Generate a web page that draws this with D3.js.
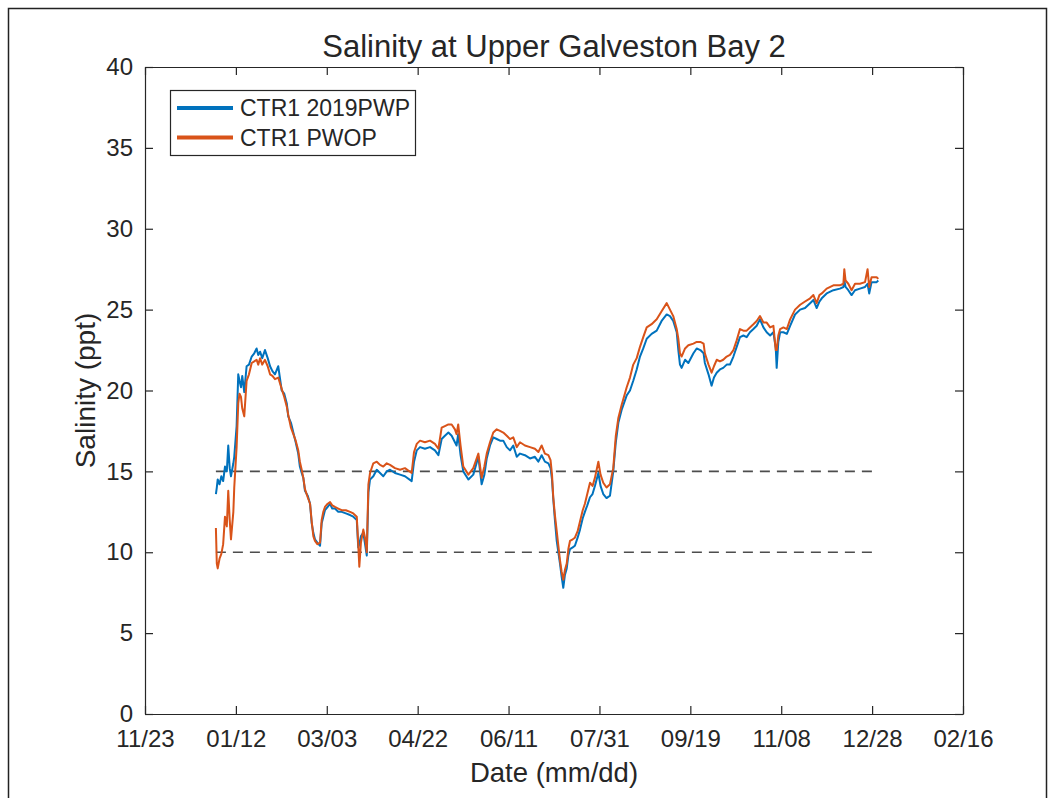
<!DOCTYPE html>
<html>
<head>
<meta charset="utf-8">
<script src="https://cdn.jsdelivr.net/npm/d3@7"></script>
<style>
  html, body { margin: 0; padding: 0; background: #fff; }
  svg { display: block; }
  text { font-family: "Liberation Sans", Arial, Helvetica, sans-serif; fill: #262626; }
</style>
</head>
<body>
<svg id="chart" width="1055" height="798"></svg>
<script>
// ---- Data (days since 2019-01-01, salinity in ppt) ----
const days = [0,0.5,1,2,3,4,5,6,6.8,7.6,8.3,9.6,10.1,11.4,12.3,13.0,13.8,14.5,15.6,16.9,18.2,19.7,21.1,22.4,23.3,24.3,25.5,27.0,28.5,29.8,31.1,32.5,34.3,36.2,37.6,39.0,39.8,41.3,42.6,43.9,45.3,46.2,47.2,48.1,49.0,50.5,51.8,52.7,53.6,54.5,55.8,57.3,58.2,59.1,60.0,61.5,62.8,64.0,65.5,67.3,69.2,71.5,73.8,75.6,77.5,78.3,78.9,79.8,81.1,82.2,83.0,83.9,84.8,86.6,88.5,90.3,92.1,94.0,95.8,98.5,101.3,104.0,107.7,109.0,110.5,112.3,115.0,117.8,120.5,122.4,124.2,126.0,127.9,129.7,131.5,132.4,133.3,134.6,136.1,138.9,141.6,144.4,146.2,147.7,149.0,150.8,152.6,154.5,156.3,158.1,160.0,161.8,163.6,165.5,167.3,170.0,172.8,175.5,177.4,179.2,181.0,182.9,184.1,184.9,185.6,186.5,187.5,188.4,189.3,190.2,191.1,192.0,193.0,193.9,194.8,196.3,197.5,199.0,200.3,201.8,203.0,204.3,205.8,207.2,208.5,210.4,211.6,213.1,214.9,216.8,218.6,220.0,221.4,223.2,226.0,227.8,229.6,231.5,233.3,235.1,237.0,239.7,242.5,245.2,248.0,249.8,251.6,253.5,254.4,255.3,256.2,258.1,259.9,262.7,264.5,266.5,268.3,269.0,271.0,272.7,274.0,275.5,277.3,279.1,281.0,282.8,284.7,286.5,288.3,290.2,292.0,293.8,295.7,297.5,299.3,301.2,303.0,304.9,306.7,308.0,308.5,309.4,310.4,312.2,314.1,315.9,318.6,321.4,324.1,326.9,328.7,330.5,332.0,333.3,336.0,339.7,343.3,345.2,345.7,346.4,347.9,349.7,351.6,354.3,357.1,358.5,359.4,360.7,363.5,364.4];

const ctr1_2019pwp = [13.6,14.0,14.5,14.2,14.7,14.4,15.3,15.0,16.6,15.2,14.7,15.5,15.9,17.8,21.0,20.6,20.2,20.9,19.9,21.5,21.6,22.1,22.3,22.6,22.2,22.4,22.0,22.5,22.0,21.5,21.2,21.0,21.5,20.0,19.8,19.2,18.4,18.0,17.4,16.8,16.1,15.3,14.9,14.6,13.8,13.5,13.0,11.8,11.2,10.8,10.6,10.4,11.8,12.2,12.6,12.8,13.0,12.7,12.7,12.5,12.5,12.4,12.3,12.2,12.0,10.3,10.5,11.0,11.2,10.4,9.8,13.7,14.5,14.7,15.1,14.9,14.7,15.0,15.1,14.9,14.8,14.7,14.4,15.6,16.3,16.5,16.4,16.5,16.3,16.0,17.0,17.2,17.4,17.2,16.8,16.6,17.3,16.0,15.0,14.5,14.8,15.9,14.2,14.8,15.8,16.6,17.1,17.0,16.9,16.9,16.5,16.3,16.6,15.9,16.1,16.0,15.8,15.9,15.6,16.0,15.6,15.5,15.2,14.5,13.3,12.0,10.7,10.0,9.3,8.5,7.8,8.6,9.0,9.8,10.2,10.3,10.4,10.9,11.4,12.1,12.5,12.9,13.4,13.6,14.1,14.9,14.1,13.6,13.35,13.5,15.0,16.8,18.0,18.8,19.7,20.0,20.6,21.3,22.1,22.6,23.2,23.5,23.7,24.3,24.7,24.6,24.3,23.6,22.5,21.6,21.4,21.9,21.7,22.3,22.6,22.5,22.3,21.7,21.0,20.3,20.8,21.1,21.3,21.4,21.6,21.6,22.1,22.7,23.3,23.4,23.3,23.6,23.8,24.0,24.4,23.9,23.6,23.4,23.6,22.6,21.4,23.0,23.6,23.6,23.5,24.0,24.7,25.0,25.1,25.4,25.6,25.1,25.5,25.7,26.0,26.2,26.3,26.4,26.8,26.4,26.2,25.9,26.2,26.3,26.4,26.6,26.0,26.7,26.7,26.8];

const ctr1_pwop = [11.5,9.3,9.0,9.6,9.9,10.5,12.2,11.6,13.8,12.0,10.8,12.5,14.0,16.5,19.2,19.8,19.6,18.9,18.4,20.6,21.0,21.7,21.8,21.9,21.6,22.0,21.6,21.9,21.5,21.0,20.9,20.7,20.8,20.1,19.6,19.0,18.5,17.7,17.3,16.9,16.3,15.6,15.1,14.6,13.9,13.4,13.0,11.9,11.0,10.7,10.5,10.6,12.0,12.5,12.8,13.0,13.1,12.9,12.8,12.7,12.6,12.6,12.5,12.4,12.2,10.5,9.1,10.6,11.4,10.8,10.0,14.2,14.9,15.5,15.6,15.4,15.3,15.5,15.4,15.2,15.1,15.2,14.9,16.2,16.7,16.9,16.8,16.9,16.7,16.4,17.7,17.8,17.9,17.9,17.6,17.3,17.9,16.6,15.3,14.8,15.2,16.1,14.6,15.3,16.1,16.8,17.4,17.6,17.5,17.4,17.2,17.0,17.1,16.5,16.8,16.6,16.5,16.4,16.2,16.6,16.1,16.0,15.7,14.8,13.4,12.3,11.3,10.4,9.5,8.8,8.3,8.9,9.3,10.2,10.7,10.8,10.9,11.3,11.9,12.6,13.0,13.6,14.3,14.1,14.6,15.6,14.8,14.3,14.0,14.2,15.2,17.2,18.3,19.1,20.2,20.8,21.6,22.0,22.7,23.3,23.9,24.1,24.4,24.9,25.4,25.0,24.6,23.8,23.2,22.3,22.1,22.6,22.8,22.9,23.0,23.0,22.9,22.3,21.6,21.1,21.5,21.9,21.8,21.9,22.1,22.2,22.5,23.1,23.8,23.7,23.7,23.9,24.1,24.3,24.6,24.2,24.2,23.9,24.0,22.5,22.5,23.4,23.8,23.9,23.8,24.4,25.0,25.3,25.5,25.7,25.9,25.4,25.9,26.0,26.3,26.5,26.5,26.6,27.5,26.8,26.6,26.2,26.6,26.6,26.7,27.5,26.4,27.0,27.0,26.9];

const seriesNames = ["CTR1 2019PWP", "CTR1 PWOP"];
const thresholds = [15, 10];
const yTickValues = [0, 5, 10, 15, 20, 25, 30, 35, 40];
const tickStepDays = 50;

// ---- Layout ----
const svg = d3.select("#chart");
const W = 1055, H = 798;
const margin = { left: 145, top: 67, right: 1055 - 963, bottom: 798 - 714 };
const colors = ["#0072BD", "#D95319"];
const axisColor = "#262626";

svg.append("rect").attr("x", 0).attr("y", 0).attr("width", W).attr("height", H).attr("fill", "#fff");
// outer figure frame
svg.append("rect").attr("x", 8.5).attr("y", 8.5).attr("width", 1038).attr("height", 820)
  .attr("fill", "none").attr("stroke", "#222").attr("stroke-width", 1.5);

const base = Date.UTC(2019, 0, 1);
const toDate = d => new Date(base + d * 864e5);
const xStart = new Date(Date.UTC(2018, 10, 23));
const xEnd = new Date(Date.UTC(2020, 1, 16));

const x = d3.scaleUtc().domain([xStart, xEnd]).range([margin.left, W - margin.right]);
const y = d3.scaleLinear().domain([0, 40]).range([H - margin.bottom, margin.top]);

const xTicks = d3.range(0, 451, tickStepDays).map(k => new Date(+xStart + k * 864e5));
const fmt = d3.utcFormat("%m/%d");

svg.append("clipPath").attr("id", "clip").append("rect")
  .attr("x", x.range()[0]).attr("y", y.range()[1])
  .attr("width", x.range()[1] - x.range()[0]).attr("height", y.range()[0] - y.range()[1]);

const plot = svg.append("g").attr("clip-path", "url(#clip)");

// threshold dashed lines spanning the data period
const dStart = toDate(days[0]), dEnd = toDate(days[days.length - 1]);
plot.selectAll("line.thr").data(thresholds).enter().append("line")
  .attr("class", "thr")
  .attr("x1", x(dStart)).attr("x2", x(dEnd))
  .attr("y1", d => y(d)).attr("y2", d => y(d))
  .attr("stroke", "#4d4d4d").attr("stroke-width", 1.6)
  .attr("stroke-dasharray", "10,7");

// data lines
const line = d3.line().x(d => x(toDate(d[0]))).y(d => y(d[1]));
const allSeries = [ctr1_2019pwp, ctr1_pwop];
allSeries.forEach((vals, i) => {
  plot.append("path")
    .datum(days.map((d, j) => [d, vals[j]]))
    .attr("d", line)
    .attr("fill", "none")
    .attr("stroke", colors[i])
    .attr("stroke-width", 2)
    .attr("stroke-linejoin", "round");
});

// axes (ticks inward, on all four sides)
const tickLen = 8;
const fontTick = 24;
const xb = svg.append("g").attr("transform", `translate(0,${y.range()[0]})`)
  .call(d3.axisBottom(x).tickValues(xTicks).tickFormat(fmt).tickSizeInner(-tickLen).tickSizeOuter(0).tickPadding(tickLen + 8));
const xt = svg.append("g").attr("transform", `translate(0,${y.range()[1]})`)
  .call(d3.axisTop(x).tickValues(xTicks).tickFormat("").tickSizeInner(-tickLen).tickSizeOuter(0));
const yl = svg.append("g").attr("transform", `translate(${x.range()[0]},0)`)
  .call(d3.axisLeft(y).tickValues(yTickValues).tickSizeInner(-tickLen).tickSizeOuter(0).tickPadding(tickLen + 4));
const yr = svg.append("g").attr("transform", `translate(${x.range()[1]},0)`)
  .call(d3.axisRight(y).tickValues(yTickValues).tickFormat("").tickSizeInner(-tickLen).tickSizeOuter(0));

[xb, xt, yl, yr].forEach(g => {
  g.selectAll("path.domain").attr("stroke", axisColor).attr("stroke-width", 1.2);
  g.selectAll(".tick line").attr("stroke", axisColor).attr("stroke-width", 1.2);
  g.selectAll("text").attr("font-size", fontTick).attr("fill", axisColor)
    .attr("font-family", "'Liberation Sans', Arial, Helvetica, sans-serif");
});
xb.selectAll("text").attr("dy", "0.71em");

// title & labels
svg.append("text").attr("x", (x.range()[0] + x.range()[1]) / 2).attr("y", 57)
  .attr("text-anchor", "middle").attr("font-size", 31).text("Salinity at Upper Galveston Bay 2");
svg.append("text").attr("x", (x.range()[0] + x.range()[1]) / 2).attr("y", 782)
  .attr("text-anchor", "middle").attr("font-size", 27.5).text("Date (mm/dd)");
svg.append("text")
  .attr("transform", `translate(95,${(y.range()[0] + y.range()[1]) / 2}) rotate(-90)`)
  .attr("text-anchor", "middle").attr("font-size", 28).text("Salinity (ppt)");

// legend
const lg = svg.append("g");
lg.append("rect").attr("x", 170.5).attr("y", 90.5).attr("width", 245).attr("height", 65)
  .attr("fill", "#fff").attr("stroke", axisColor).attr("stroke-width", 1.2);
seriesNames.forEach((name, i) => {
  const cy = 108 + i * 29.5;
  lg.append("line").attr("x1", 177).attr("x2", 233).attr("y1", cy).attr("y2", cy)
    .attr("stroke", colors[i]).attr("stroke-width", 4);
  lg.append("text").attr("x", 240).attr("y", cy).attr("dy", "0.36em")
    .attr("font-size", 23).text(name);
});
</script>
</body>
</html>
